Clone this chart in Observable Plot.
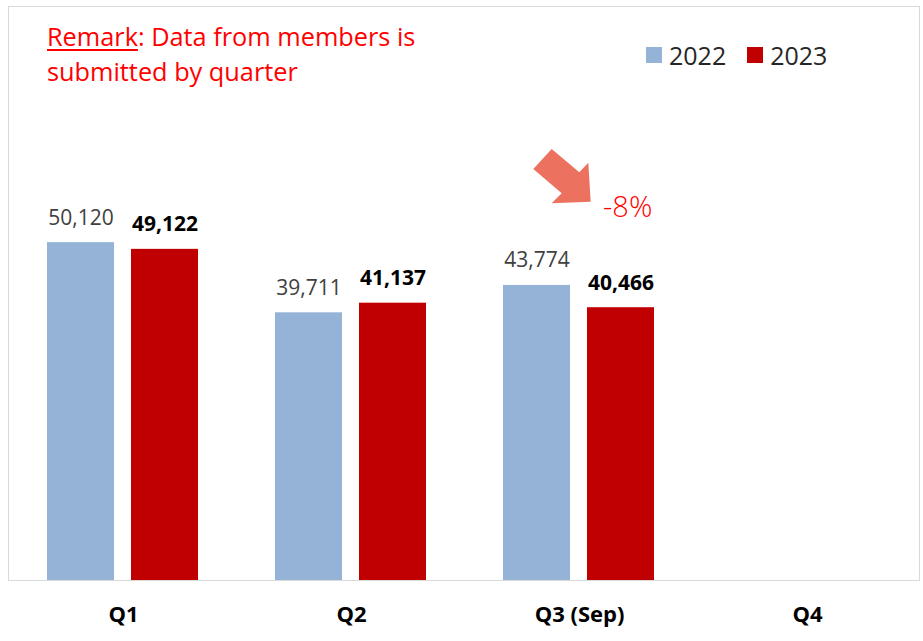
<!DOCTYPE html>
<html>
<head>
<meta charset="utf-8">
<script src="https://cdn.jsdelivr.net/npm/d3@7"></script>
<script src="https://cdn.jsdelivr.net/npm/@observablehq/plot@0.6"></script>
<style>
  html, body { margin: 0; padding: 0; background: #fff; }
  #wrap { position: relative; width: 923px; height: 641px; font-family: "Open Sans", sans-serif; overflow: hidden; }
  #frame { position: absolute; left: 8px; top: 6px; width: 912px; height: 575px; border: 1.5px solid #D9D9D9; box-sizing: border-box; pointer-events: none; }
  #remark { position: absolute; left: 47px; top: 19px; font-size: 25.3px; line-height: 35px; color: #FF0000; }
  #remark u { text-decoration-thickness: 2px; text-underline-offset: 3px; }
  #legend { position: absolute; left: 646px; top: 36px; font-size: 25px; line-height: 38px; color: #262626; display: flex; align-items: center; }
  #legend .sw { display: inline-block; width: 16px; height: 16px; margin-right: 7px; }
  #legend .item { display: flex; align-items: center; margin-right: 21px; }
  #pct { position: absolute; left: 603px; top: 189px; font-size: 29px; font-weight: 300; color: #FF0000; line-height: 34px; }
  #arrow { position: absolute; left: 0; top: 0; }
</style>
</head>
<body>
<div id="wrap">
  <div id="chart"></div>
  <div id="frame"></div>
  <div id="remark"><u>Remark</u>: Data from members is<br>submitted by quarter</div>
  <div id="legend"></div>
  <svg id="arrow" width="923" height="641"><polygon points="551.7,149 579.3,172.3 588.3,162.7 590.7,201.7 551.7,203.3 561.7,193.3 533.3,169" fill="#EC725F"/></svg>
  <div id="pct">-8%</div>
</div>
<script>
const quarters = ["Q1", "Q2", "Q3 (Sep)", "Q4"];
const years = ["2022", "2023"];
const values2022 = [50120, 39711, 43774, null];
const values2023 = [49122, 41137, 40466, null];
const colors = ["#95B3D7", "#C00000"];

const rows = [];
quarters.forEach((q, i) => {
  if (values2022[i] != null) rows.push({quarter: q, year: years[0], value: values2022[i]});
  if (values2023[i] != null) rows.push({quarter: q, year: years[1], value: values2023[i]});
});
const fmt = d3.format(",");

const chart = Plot.plot({
  width: 923,
  height: 641,
  marginTop: 7,
  marginBottom: 61,
  marginLeft: 8,
  marginRight: 1,
  style: {fontFamily: "'Open Sans', sans-serif", background: "transparent"},
  fx: {domain: quarters, padding: 0, label: null},
  x: {domain: years, paddingInner: 0.2, paddingOuter: 0.45, axis: null},
  y: {domain: [0, 85000], axis: null},
  color: {domain: years, range: colors},
  marks: [
    Plot.axisFx({anchor: "bottom", tickSize: 0, tickPadding: 26, fontSize: 22, fontWeight: "bold", fill: "#000", label: null}),
    Plot.barY(rows, {fx: "quarter", x: "year", y: "value", fill: "year"}),
    Plot.text(rows.filter(d => d.year === years[0]), {fx: "quarter", x: "year", y: "value", text: d => fmt(d.value), lineAnchor: "bottom", dy: -18, fontSize: 21, fill: "#404040"}),
    Plot.text(rows.filter(d => d.year === years[1]), {fx: "quarter", x: "year", y: "value", text: d => fmt(d.value), lineAnchor: "bottom", dy: -18, fontSize: 21, fontWeight: "bold", fill: "#000"})
  ]
});
document.getElementById("chart").appendChild(chart);

const legend = document.getElementById("legend");
years.forEach((y, i) => {
  const item = document.createElement("span");
  item.className = "item";
  const sw = document.createElement("span");
  sw.className = "sw";
  sw.style.background = colors[i];
  item.appendChild(sw);
  item.appendChild(document.createTextNode(y));
  legend.appendChild(item);
});
</script>
</body>
</html>
